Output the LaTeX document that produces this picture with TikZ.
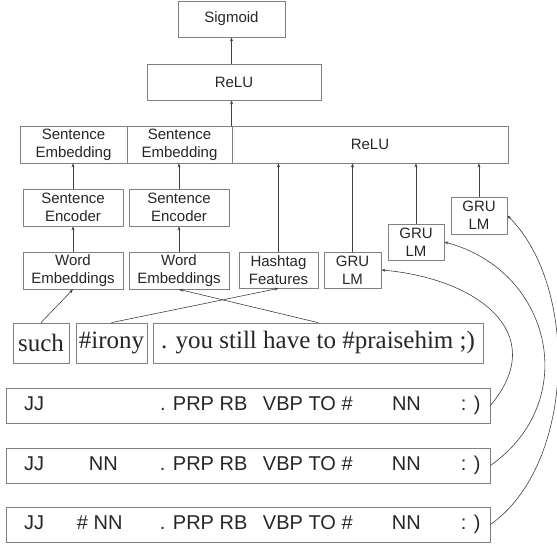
\documentclass[tikz,border=0pt]{standalone}
\usepackage{fontspec}
\setmainfont{Liberation Sans}
\newfontfamily\wordfont{Liberation Serif}
\usetikzlibrary{arrows.meta}
\tikzset{
  box/.style 2 args={draw=black!50, line width=0.8pt, inner sep=0pt, align=center,
    text=black!85, minimum width=#1pt, minimum height=#2pt,
    font=\fontsize{15}{18}\selectfont},
  wordbox/.style={box={#1}{40}, font=\wordfont\fontsize{25}{30}\selectfont},
  tagbox/.style={box={484}{35}, font=\fontsize{20}{24}\selectfont}
}
\newcommand{\tagrow}[2]{\makebox[484pt][l]{\rlap{\hspace*{18pt}JJ}\rlap{\hspace*{#1}#2}%
  \rlap{\hspace*{154pt}. PRP RB}\rlap{\hspace*{257pt}VBP TO \#}%
  \rlap{\hspace*{386pt}NN}\rlap{\hspace*{455pt}: )}}}
\begin{document}
\begin{tikzpicture}[x=1pt,y=1pt]
      \useasboundingbox (0,0) rectangle (557,544);
      \draw
        (231.5,525) node[box={107}{36}] (sig){Sigmoid}
        (234,462) node[box={174}{36}] (relu2){ReLU}
        (73.5,399.5) node[box={107}{37}] (se1){Sentence\\Embedding}
        (179.5,399.5) node[box={105}{37}] (se2){Sentence\\Embedding}
        (370,399.5) node[box={276}{37}] (relu1){ReLU}
        (73,336.5) node[box={100}{37}] (enc1){Sentence\\Encoder}
        (179,336.5) node[box={100}{37}] (enc2){Sentence\\Encoder}
        (73,273.5) node[box={100}{37}] (we1){Word\\Embeddings}
        (179,273.5) node[box={100}{37}] (we2){Word\\Embeddings}
        (278.5,274) node[box={79}{36}] (hash){Hashtag\\Features}
        (352.5,274) node[box={57}{36}] (gru1){GRU\\LM}
        (416,302) node[box={56}{36}] (gru2){GRU\\LM}
        (479,328.5) node[box={56}{37}] (gru3){GRU\\LM}
        (41,201) node[wordbox=56] (w1){such}
        (111.5,201) node[wordbox=71] (w2){\#irony}
        (318,201) node[wordbox=330] (w3){. you still have to \#praisehim ;)}
        (248,138.5) node[tagbox] (pos1){\tagrow{83pt}{}}
        (248,78.5) node[tagbox] (pos2){\tagrow{83pt}{NN}}
        (248,19.5) node[tagbox] (pos3){\tagrow{71pt}{\# NN}};
      \begin{scope}[-{Stealth[length=4pt,width=3pt]}, draw=black!75, line width=0.6pt]
        \draw (sig.south |- relu2.north) to (sig.south);
        \draw (relu1.north west) to (relu1.north west |- relu2.south);
        \draw (enc1.north) to (enc1.north |- se1.south);
        \draw (enc2.north) to (enc2.north |- se2.south);
        \draw (we1) to (enc1);
        \draw (we2) to (enc2);
        \draw (hash) to (hash |- relu1.south);
        \draw (gru1) to (gru1 |- relu1.south);
        \draw (gru2) to (gru2 |- relu1.south);
        \draw (gru3) to (gru3 |- relu1.south);
        \draw (w1.north) to (we1.south);
        \draw (w2.north) to (hash.south);
        \draw (w3.north) to (we2.south);
        \draw (pos1.east) to[out=50,in=-5,looseness=1.4] (gru1.east);
        \draw (pos2.east) to[out=35,in=-15,looseness=1.25] (gru2.east);
        \draw (pos3.east) to[out=35,in=-45,looseness=0.85] (gru3.east);
      \end{scope}
    \end{tikzpicture}
\end{document}
